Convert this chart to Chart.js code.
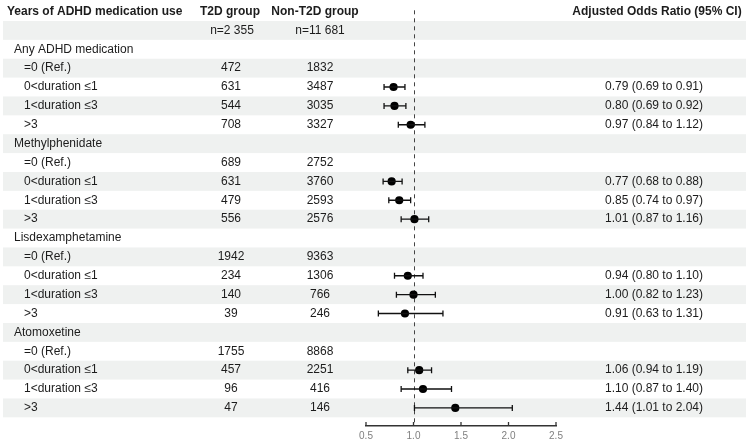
<!DOCTYPE html>
<html>
<head>
<meta charset="utf-8">
<script src="https://cdn.jsdelivr.net/npm/chart.js@4.4.1/dist/chart.umd.min.js"></script>
<style>
  html, body { margin: 0; padding: 0; background: #fff; }
  #wrap { width: 750px; height: 441px; }
</style>
</head>
<body>
<div id="wrap"><canvas id="forest" width="750" height="441"></canvas></div>
<script>
//medication groups and duration bands
const groups = ["Any ADHD medication", "Methylphenidate", "Lisdexamphetamine", "Atomoxetine"];
const durations = ["=0 (Ref.)", "0<duration \u22641", "1<duration \u22643", ">3"];
//counts per group / duration
const t2dCounts = [[472, 631, 544, 708], [689, 631, 479, 556], [1942, 234, 140, 39], [1755, 457, 96, 47]];
const nonT2dCounts = [[1832, 3487, 3035, 3327], [2752, 3760, 2593, 2576], [9363, 1306, 766, 246], [8868, 2251, 416, 146]];
//adjusted odds ratio with 95% CI (null = reference)
const oddsRatio = [[null, 0.79, 0.80, 0.97], [null, 0.77, 0.85, 1.01], [null, 0.94, 1.00, 0.91], [null, 1.06, 1.10, 1.44]];
const ciLow = [[null, 0.69, 0.69, 0.84], [null, 0.68, 0.74, 0.87], [null, 0.80, 0.82, 0.63], [null, 0.94, 0.87, 1.01]];
const ciHigh = [[null, 0.91, 0.92, 1.12], [null, 0.88, 0.97, 1.16], [null, 1.10, 1.23, 1.31], [null, 1.19, 1.40, 2.04]];
//column headers and group sizes
const headers = ["Years of ADHD medication use", "T2D group", "Non-T2D group", "Adjusted Odds Ratio (95% CI)"];
const groupSizes = ["n=2 355", "n=11 681"];
const xTicks = [0.5, 1.0, 1.5, 2.0, 2.5];

//row index of each table line: header, n row, then group + 4 durations
const groupRow = (g) => 2 + g * 5;
const durRow = (g, d) => 3 + g * 5 + d;
const rowCount = 2 + groups.length * 5;

//build the datasets from the arrays
const points = [], caps = [], ciLines = [];
groups.forEach((_, g) => {
  durations.forEach((_, d) => {
    if (oddsRatio[g][d] === null) return;
    const r = durRow(g, d);
    points.push({ x: oddsRatio[g][d], y: r });
    caps.push({ x: ciLow[g][d], y: r }, { x: ciHigh[g][d], y: r });
    ciLines.push({ x: ciLow[g][d], y: r }, { x: ciHigh[g][d], y: r }, { x: ciHigh[g][d], y: null });
  });
});

const FONT = "'Liberation Sans', Arial, Helvetica, sans-serif";
const TEXT = "#1c1c1c";

//plugin: striped rows, reference line, table text, inward ticks
const forestTable = {
  id: "forestTable",
  beforeDatasetsDraw(chart) {
    const { ctx, scales: { x, y }, chartArea } = chart;
    const h = Math.abs(y.getPixelForValue(1) - y.getPixelForValue(0));
    ctx.save();
    ctx.fillStyle = "#eff1f0";
    for (let r = 1; r < rowCount; r += 2) {
      ctx.fillRect(3, y.getPixelForValue(r) - h / 2, 743, h);
    }
    //dashed line at OR = 1
    const x1 = Math.round(x.getPixelForValue(1)) + 0.5;
    ctx.strokeStyle = "#444";
    ctx.lineWidth = 1;
    ctx.setLineDash([4, 4]);
    ctx.beginPath();
    ctx.moveTo(x1, chartArea.top + 5);
    ctx.lineTo(x1, chartArea.bottom);
    ctx.stroke();
    ctx.restore();
  },
  afterDraw(chart) {
    const { ctx, scales: { x, y }, chartArea } = chart;
    ctx.save();
    ctx.textBaseline = "middle";
    ctx.fillStyle = TEXT;
    //header
    const y0 = y.getPixelForValue(0);
    ctx.font = "bold 12px " + FONT;
    ctx.textAlign = "left";
    ctx.fillText(headers[0], 7, y0);
    ctx.textAlign = "center";
    ctx.fillText(headers[1], 230, y0);
    ctx.fillText(headers[2], 315, y0);
    ctx.fillText(headers[3], 657, y0);
    //n row
    ctx.font = "12px " + FONT;
    ctx.fillText(groupSizes[0], 232, y.getPixelForValue(1));
    ctx.fillText(groupSizes[1], 320, y.getPixelForValue(1));
    groups.forEach((name, g) => {
      ctx.textAlign = "left";
      ctx.fillText(name, 14, y.getPixelForValue(groupRow(g)));
      durations.forEach((lab, d) => {
        const py = y.getPixelForValue(durRow(g, d));
        ctx.textAlign = "left";
        ctx.fillText(lab, 24, py);
        ctx.textAlign = "center";
        ctx.fillText(String(t2dCounts[g][d]), 231, py);
        ctx.fillText(String(nonT2dCounts[g][d]), 320, py);
        if (oddsRatio[g][d] !== null) {
          const txt = oddsRatio[g][d].toFixed(2) + " (" + ciLow[g][d].toFixed(2) + " to " + ciHigh[g][d].toFixed(2) + ")";
          ctx.fillText(txt, 654, py);
        }
      });
    });
    //tick marks pointing up from the axis
    ctx.strokeStyle = "#333";
    ctx.lineWidth = 1.3;
    x.ticks.forEach((t) => {
      const px = x.getPixelForValue(t.value);
      ctx.beginPath();
      ctx.moveTo(px, chartArea.bottom);
      ctx.lineTo(px, chartArea.bottom - 4);
      ctx.stroke();
    });
    ctx.restore();
  },
};

new Chart(document.getElementById("forest"), {
  type: "scatter",
  data: {
    datasets: [
      {
        //CI lines
        data: ciLines,
        showLine: true,
        spanGaps: false,
        borderColor: "#111",
        borderWidth: 1.3,
        pointRadius: 0,
      },
      {
        //CI caps
        data: caps,
        pointStyle: "line",
        rotation: 90,
        pointRadius: 3,
        borderColor: "#111",
        borderWidth: 1.3,
      },
      {
        //point estimates
        data: points,
        pointRadius: 4.1,
        backgroundColor: "#000",
        borderColor: "#000",
        borderWidth: 0,
      },
    ],
  },
  options: {
    responsive: false,
    animation: false,
    layout: { padding: { left: 366, right: 194, top: 0, bottom: -5 } },
    plugins: { legend: { display: false }, tooltip: { enabled: false } },
    scales: {
      x: {
        type: "linear",
        min: 0.5,
        max: 2.5,
        afterBuildTicks: (scale) => { scale.ticks = xTicks.map((v) => ({ value: v })); },
        ticks: {
          callback: (v) => Number(v).toFixed(1),
          color: "#808080",
          font: { family: FONT, size: 10 },
          padding: 4,
          maxRotation: 0,
        },
        grid: { display: false, drawTicks: false },
        border: { display: true, color: "#333", width: 1.5 },
      },
      y: {
        type: "linear",
        display: false,
        reverse: true,
        min: -0.33,
        max: 21.96,
      },
    },
  },
  plugins: [forestTable],
});
</script>
</body>
</html>
